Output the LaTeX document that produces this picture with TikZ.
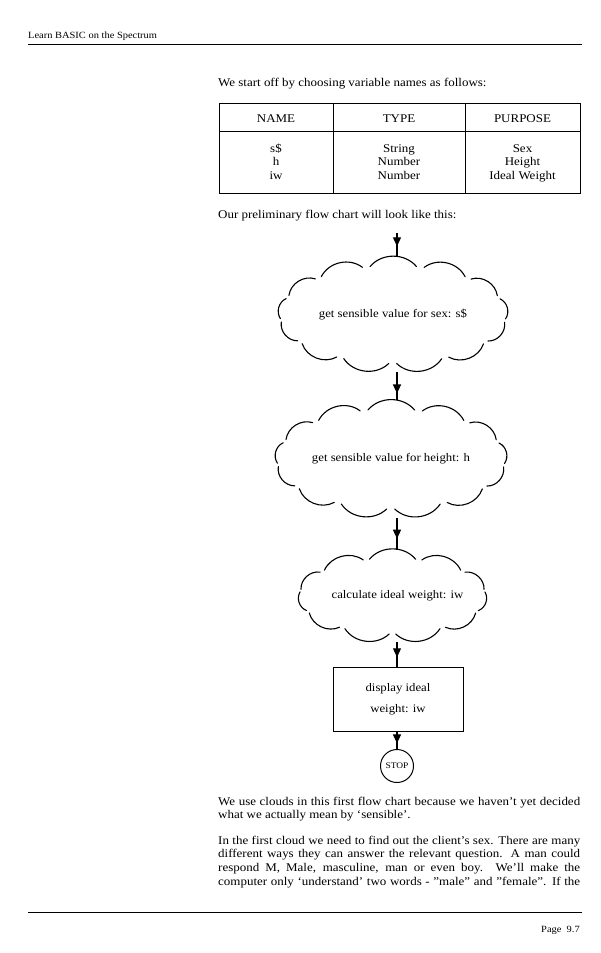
\documentclass[tikz,border=0pt]{standalone}
\usepackage{fontspec}
\setmainfont[FakeStretch=1.1]{Liberation Serif}
\usetikzlibrary{arrows.meta,calc,decorations.markings}
\newcommand\puffcloud[6]{%
  \foreach \k in {1,...,#4}{%
    \pgfmathsetmacro\aA{#5+(\k-1)*360/#4+2}%
    \pgfmathsetmacro\aB{#5+\k*360/#4-2}%
    \draw[cloudline] ($(#1)+(\aA:#2pt and #3pt)$) to[bend right=#6] ($(#1)+(\aB:#2pt and #3pt)$);
  }%
}
\begin{document}
\begin{tikzpicture}[x=1pt,y=-1pt,
  txt/.style={inner sep=0pt, font=\fontsize{11.8}{13.6}\selectfont},
  cell/.style={inner sep=0pt, anchor=base, font=\fontsize{11.8}{13.6}\selectfont},
  hdr/.style={inner sep=0pt, font=\fontsize{9.5}{12}\selectfont},
  rulel/.style={line width=0.9pt},
  tabline/.style={line width=0.9pt},
  cloudline/.style={line width=1.1pt, line cap=round},
  cloudbox/.style={inner sep=0pt, draw=none, font=\fontsize{11.6}{14}\selectfont},
  flowline/.style={line width=1.1pt, postaction={decorate},
    decoration={markings, mark=at position #1 with {\arrow{Triangle[length=9pt,width=8pt]}}}},
  flowline/.default=0.6]
\useasboundingbox[fill=white] (0,0) rectangle (600,953);

% header and footer
\node[hdr, anchor=west] (head) at (28,36.5) {Learn BASIC on the Spectrum};
\draw[rulel] (28,44.5) -- (582,44.5);
\draw[rulel] (28,912) -- (582,912);
\node[hdr, anchor=east] (page) at (580,930) {Page\ \ 9.7};

% intro line
\node[txt, anchor=west] (intro) at (218,84) {We start off by choosing variable names as follows:};

% table
\draw[tabline] (219,103) rectangle (580,193);
\draw[tabline] (219,131) -- (580,131);
\draw[tabline] (333,103) -- (333,193);
\draw[tabline] (465,103) -- (465,193);
\node[cell] (hname) at (276,122) {NAME};
\node[cell] (htype) at (399,122) {TYPE};
\node[cell] (hpurp) at (522.5,122) {PURPOSE};
\node[cell] (n1) at (276,152.3) {s\$};
\node[cell] (n2) at (276,165.8) {h};
\node[cell] (n3) at (276,179.3) {iw};
\node[cell] (t1) at (399,152.3) {String};
\node[cell] (t2) at (399,165.8) {Number};
\node[cell] (t3) at (399,179.3) {Number};
\node[cell] (u1) at (522.5,152.3) {Sex};
\node[cell] (u2) at (522.5,165.8) {Height};
\node[cell] (u3) at (522.5,179.3) {Ideal Weight};

\node[txt, anchor=west] (prelim) at (218,215.5) {Our preliminary flow chart will look like this:};

% flow chart
\coordinate (top) at (397,233);
\node[cloudbox, minimum width=242pt, minimum height=115pt] (c1) at (393,314.5) {get sensible value for sex: s\$};
\puffcloud{c1.center}{113}{49}{13}{76}{50}
\node[cloudbox, minimum width=244pt, minimum height=118pt] (c2) at (391,459) {get sensible value for height: h};
\puffcloud{c2.center}{114}{50}{13}{76}{50}
\node[cloudbox, minimum width=201pt, minimum height=92pt] (c3) at (392.5,596) {\hspace*{10pt}calculate ideal weight: iw};
\puffcloud{c3.center}{93}{38}{11}{73.6}{50}
\node[draw, line width=1pt, minimum width=130pt, minimum height=64pt, align=center,
      font=\fontsize{11.6}{14}\selectfont] (disp) at (398,699) {display ideal\\[6.5pt]weight: iw};
\node[circle, draw, line width=1pt, minimum size=33pt, inner sep=0pt,
      font=\fontsize{8.6}{10}\selectfont] (stop) at (397,766) {STOP};

\draw[flowline=0.56] (top) -- (c1.north -| top);
\draw[flowline=0.77] (c1.south -| top) -- (c2.north -| top);
\draw[flowline=0.65] (c2.south -| top) -- (c3.north -| top);
\draw[flowline=0.62] (c3.south -| top) -- (disp.north -| top);
\draw[flowline=0.68] (disp.south -| top) -- (stop.north);

% body text
\node[txt, anchor=north west, text width=362pt, align=justify] (p1) at (218,796.8)
 {We use clouds in this first flow chart because we haven't yet decided\linebreak
  what we actually mean by `sensible'.};
\node[txt, anchor=north west, text width=362pt, align=justify] (p2) at (218,835.8)
 {\setlength\parfillskip{0pt}In the first cloud we need to find out the client's sex. There are many\linebreak
  different ways they can answer the relevant question. A man could\linebreak
  respond M, Male, masculine, man or even boy. We'll make the\linebreak
  computer only `understand' two words - "male" and "female". If the\par};
\end{tikzpicture}
\end{document}
